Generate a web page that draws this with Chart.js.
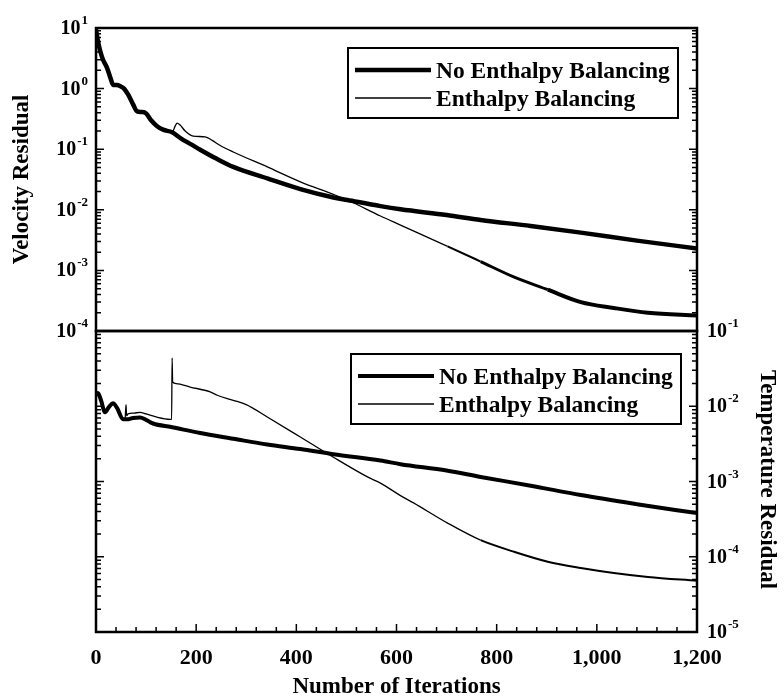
<!DOCTYPE html>
<html>
<head>
<meta charset="utf-8">
<script src="https://cdn.jsdelivr.net/npm/chart.js@4"></script>
<style>
  body { margin: 0; background: #fff; }
  #wrap { position: relative; width: 784px; height: 698px; }
  canvas { position: absolute; left: 0; top: 0; }
</style>
</head>
<body>
<div id="wrap">
  <canvas id="chartVel" width="784" height="698"></canvas>
  <canvas id="chartTemp" width="784" height="698"></canvas>
</div>
<script>
// datos

// residuo de velocidad, sin balance de entalpia
const itVelSin = [0, 4, 8, 14, 22, 30, 34, 42, 48, 56, 64, 74, 82, 92, 100, 110, 122, 134, 152, 170,
  190, 208, 240, 274, 342, 408, 474, 502, 568, 608, 700, 768, 868, 968, 1080, 1200];
const velSin = [9.5, 6, 4.3, 3.0, 2.2, 1.4, 1.15, 1.15, 1.1, 1.0, 0.8, 0.55, 0.42, 0.41, 0.39, 0.3, 0.24, 0.21, 0.19, 0.15,
  0.12, 0.098, 0.07, 0.051, 0.033, 0.022, 0.016, 0.0145, 0.0115, 0.0102, 0.0082, 0.0068, 0.0054, 0.0042, 0.0031, 0.0023];

// residuo de velocidad, con balance de entalpia
const itVelCon = [0, 4, 8, 14, 22, 30, 34, 42, 48, 56, 64, 74, 82, 92, 100, 110, 122, 134, 152,
  158, 162, 168, 178, 194, 218, 232, 248, 274, 342, 408, 474, 502, 568, 608, 702, 768, 834, 902,
  968, 1034, 1102, 1200];
const velCon = [9.5, 6, 4.3, 3.0, 2.2, 1.4, 1.15, 1.15, 1.1, 1.0, 0.8, 0.55, 0.42, 0.41, 0.39, 0.3, 0.24, 0.21, 0.19,
  0.24, 0.27, 0.25, 0.2, 0.165, 0.16, 0.14, 0.115, 0.09, 0.051, 0.029, 0.018, 0.0145, 0.0079, 0.0056, 0.0025, 0.0014, 0.00078, 0.00048,
  0.0003, 0.00024, 0.0002, 0.00018];

// residuo de temperatura, sin balance
const itTempSin = [0, 4, 10, 18, 26, 34, 42, 54, 62, 74, 88, 100, 114, 150, 208, 274, 342, 408, 474, 568,
  608, 700, 768, 868, 968, 1080, 1200];
const tempSin = [0.014, 0.015, 0.012, 0.0083, 0.0098, 0.011, 0.0095, 0.0067, 0.0067, 0.007, 0.0071, 0.0066, 0.0059, 0.0053,
  0.0044, 0.0037, 0.0031, 0.0027, 0.0023, 0.0019, 0.0017, 0.0014, 0.00115, 0.00088, 0.00066, 0.0005, 0.00038];

// residuo de temperatura, con balance
const itTempCon = [0, 4, 10, 18, 26, 34, 42, 54, 58, 60, 61, 64, 76, 88, 100, 120, 148, 151, 152, 153,
  160, 188, 228, 242, 274, 300, 342, 408, 474, 542, 568, 608, 634, 702, 768, 834, 902, 968, 1034, 1102, 1200];
const tempCon = [0.014, 0.015, 0.012, 0.0083, 0.0098, 0.011, 0.0095, 0.0067, 0.0068, 0.0105, 0.0075, 0.0079, 0.0081, 0.0083,
  0.0079, 0.0072, 0.0067, 0.0067, 0.044, 0.021, 0.02, 0.018, 0.0155, 0.014, 0.012, 0.0105, 0.0072, 0.0039, 0.0021, 0.00115,
  0.00095, 0.00065, 0.00052, 0.00028, 0.000166, 0.000117, 0.000086, 0.000071, 0.000061, 0.000054, 0.000048];

const etiquetas = ["No Enthalpy Balancing", "Enthalpy Balancing"];
const ticksX = [0, 200, 400, 600, 800, 1000, 1200];

const fuente = '"Liberation Serif", "Times New Roman", serif';

function pares(xs, ys) {
  return xs.map((x, i) => ({ x: x, y: ys[i] }));
}

// dibuja 10 con exponente
function potencia(ctx, x, y, e, lado) {
  const exp = e < 0 ? "-" + Math.abs(e) : String(e);
  ctx.font = "bold 20px " + fuente;
  const w10 = ctx.measureText("10").width;
  ctx.font = "bold 13px " + fuente;
  const wExp = ctx.measureText(exp).width;
  let x0 = lado === "left" ? x - (w10 + 1 + wExp) : x;
  ctx.textAlign = "left";
  ctx.textBaseline = "alphabetic";
  ctx.font = "bold 20px " + fuente;
  ctx.fillText("10", x0, y + 6);
  ctx.font = "bold 13px " + fuente;
  ctx.fillText(exp, x0 + w10 + 1, y - 4);
}

const ejesPlugin = {
  id: "ejes",
  afterDraw(chart, args, o) {
    const ctx = chart.ctx;
    const a = chart.chartArea;
    const sx = chart.scales.x;
    const sy = chart.scales.y;
    ctx.save();
    ctx.strokeStyle = "#000";
    ctx.fillStyle = "#000";

    // ticks y hacia adentro, en ambos lados
    const e0 = Math.round(Math.log10(sy.min));
    const e1 = Math.round(Math.log10(sy.max));
    ctx.lineWidth = 1.5;
    ctx.beginPath();
    for (let e = e0; e <= e1; e++) {
      for (let k = 1; k <= 9; k++) {
        const v = k * Math.pow(10, e);
        if (v > sy.max * 1.0001) break;
        const y = sy.getPixelForValue(v);
        const len = k === 1 ? 8 : 5;
        ctx.moveTo(a.left, y);
        ctx.lineTo(a.left + len, y);
        ctx.moveTo(a.right, y);
        ctx.lineTo(a.right - len, y);
      }
    }
    ctx.stroke();

    // etiquetas 10^n
    if (o.etiquetasY) {
      for (let e = e0; e <= e1; e++) {
        const y = sy.getPixelForValue(Math.pow(10, e));
        if (o.etiquetasY === "left") potencia(ctx, a.left - 8, y, e, "left");
        else potencia(ctx, a.right + 10, y, e, "right");
      }
    }

    // eje x
    if (o.ejeX) {
      ctx.beginPath();
      for (let v = 0; v <= 1200; v += 40) {
        const x = sx.getPixelForValue(v);
        const len = v % 200 === 0 ? 8 : 5;
        ctx.moveTo(x, a.bottom);
        ctx.lineTo(x, a.bottom - len);
      }
      ctx.stroke();
      ctx.font = "bold 22px " + fuente;
      ctx.textAlign = "center";
      ctx.textBaseline = "alphabetic";
      ticksX.forEach((v) => {
        ctx.fillText(v.toLocaleString("en-US"), sx.getPixelForValue(v), a.bottom + 32);
      });
      ctx.font = "bold 23px " + fuente;
      ctx.fillText(o.ejeX, (a.left + a.right) / 2, a.bottom + 61);
    }

    // titulo y
    if (o.tituloY) {
      ctx.font = "bold 23px " + fuente;
      ctx.textAlign = "center";
      ctx.textBaseline = "middle";
      const yc = (a.top + a.bottom) / 2;
      ctx.save();
      if (o.tituloY.lado === "left") {
        ctx.translate(22, yc);
        ctx.rotate(-Math.PI / 2);
      } else {
        ctx.translate(767, yc - 2);
        ctx.rotate(Math.PI / 2);
      }
      ctx.fillText(o.tituloY.texto, 0, 0);
      ctx.restore();
    }

    // marco
    ctx.lineWidth = 2.5;
    ctx.strokeRect(a.left, a.top, a.right - a.left, a.bottom - a.top);

    // leyenda
    const b = o.leyenda;
    ctx.fillStyle = "#fff";
    ctx.fillRect(b.x, b.y, b.w, b.h);
    ctx.lineWidth = 2;
    ctx.strokeRect(b.x, b.y, b.w, b.h);
    ctx.fillStyle = "#000";
    ctx.font = "bold 23.5px " + fuente;
    ctx.textAlign = "left";
    ctx.textBaseline = "alphabetic";
    chart.data.datasets.forEach((ds, i) => {
      const y = b.y + 22 + i * 28;
      ctx.lineWidth = ds.borderWidth;
      ctx.beginPath();
      ctx.moveTo(b.x + 7, y);
      ctx.lineTo(b.x + 83, y);
      ctx.stroke();
      ctx.fillText(ds.label, b.x + 88, y + 8);
    });
    ctx.restore();
  },
};

function opciones(min, max, padding, ejes) {
  return {
    responsive: false,
    animation: false,
    devicePixelRatio: 1,
    layout: { padding: padding },
    elements: { line: { cubicInterpolationMode: "monotone" } },
    scales: {
      x: { type: "linear", min: 0, max: 1200, display: false },
      y: { type: "logarithmic", min: min, max: max, display: false },
    },
    plugins: {
      legend: { display: false },
      tooltip: { enabled: false },
      ejes: ejes,
    },
  };
}

// grafico de velocidad
new Chart(document.getElementById("chartVel"), {
  type: "line",
  data: {
    datasets: [
      {
        label: etiquetas[0],
        data: pares(itVelSin, velSin),
        borderColor: "#000",
        borderWidth: 4.5,
        borderJoinStyle: "round",
        pointRadius: 0,
      },
      {
        label: etiquetas[1],
        data: pares(itVelCon, velCon),
        borderColor: "#000",
        borderWidth: 1.3,
        borderJoinStyle: "round",
        pointRadius: 0,
        segment: {
          borderWidth: (c) => {
            const x = c.p0.parsed.x;
            if (x >= 880) return 4;
            if (x >= 760) return 3;
            if (x >= 640) return 2;
            return 1.3;
          },
        },
      },
    ],
  },
  options: opciones(1e-4, 10, { left: 96, right: 87, top: 28, bottom: 367 }, {
    etiquetasY: "left",
    tituloY: { texto: "Velocity Residual", lado: "left" },
    leyenda: { x: 348, y: 48, w: 330, h: 70 },
  }),
  plugins: [ejesPlugin],
});

// grafico de temperatura
new Chart(document.getElementById("chartTemp"), {
  type: "line",
  data: {
    datasets: [
      {
        label: etiquetas[0],
        data: pares(itTempSin, tempSin),
        borderColor: "#000",
        borderWidth: 4,
        borderJoinStyle: "round",
        pointRadius: 0,
      },
      {
        label: etiquetas[1],
        data: pares(itTempCon, tempCon),
        borderColor: "#000",
        borderWidth: 1.3,
        borderJoinStyle: "round",
        pointRadius: 0,
        segment: {
          borderWidth: (c) => (c.p0.parsed.x >= 760 ? 2 : 1.3),
        },
      },
    ],
  },
  options: opciones(1e-5, 1e-1, { left: 96, right: 87, top: 331, bottom: 66 }, {
    etiquetasY: "right",
    tituloY: { texto: "Temperature Residual", lado: "right" },
    ejeX: "Number of Iterations",
    leyenda: { x: 351, y: 354, w: 330, h: 70 },
  }),
  plugins: [ejesPlugin],
});
</script>
</body>
</html>
